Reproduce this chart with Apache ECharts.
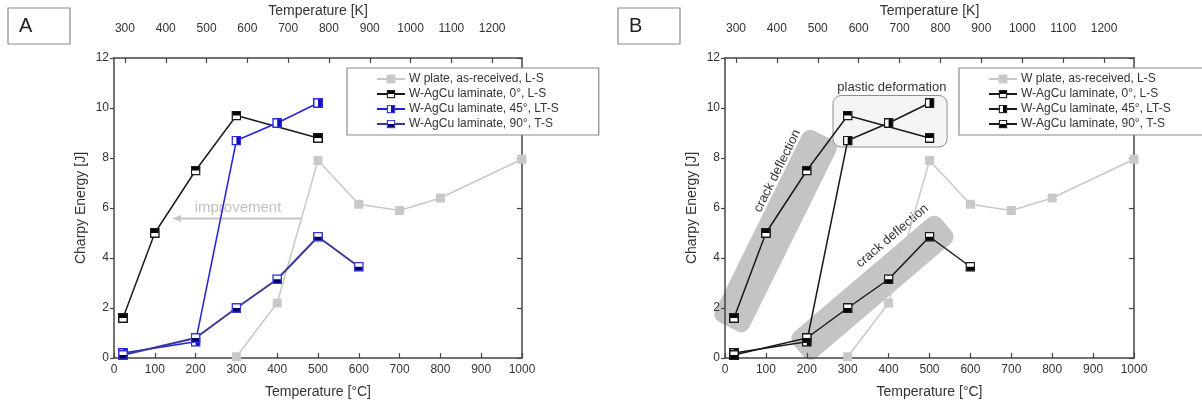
<!DOCTYPE html>
<html>
<head>
<meta charset="utf-8">
<script src="https://cdn.jsdelivr.net/npm/echarts@6/dist/echarts.min.js"></script>
<style>
html,body{margin:0;padding:0;background:#fff;}
#c{width:1202px;height:405px;}
</style>
</head>
<body>
<div id="c"></div>
<script>
// ---- data ----
const seriesNames = ['W plate, as-received, L-S', 'W-AgCu laminate, 0°, L-S', 'W-AgCu laminate, 45°, LT-S', 'W-AgCu laminate, 90°, T-S'];
const tempC_W = [300, 400, 500, 600, 700, 800, 1000];
const energy_W = [0.05, 2.2, 7.9, 6.15, 5.9, 6.4, 7.95];
const tempC_0 = [22, 100, 200, 300, 500];
const energy_0 = [1.6, 5.0, 7.5, 9.7, 8.8];
const tempC_45 = [22, 200, 300, 400, 500];
const energy_45 = [0.2, 0.65, 8.7, 9.4, 10.2];
const tempC_90 = [22, 200, 300, 400, 500, 600];
const energy_90 = [0.12, 0.8, 2.0, 3.15, 4.85, 3.65];
const kelvinTicks = [300, 400, 500, 600, 700, 800, 900, 1000, 1100, 1200];

const pairs = (xs, ys) => xs.map((x, i) => [x, ys[i]]);
const ZW = '\u200b';

function sq(border, fill, half) {
  let h = '';
  if (half === 'top') h = `<rect x="2" y="2" width="16" height="8" fill="${fill}"/>`;
  if (half === 'bottom') h = `<rect x="2" y="10" width="16" height="8" fill="${fill}"/>`;
  if (half === 'right') h = `<rect x="10" y="2" width="8" height="16" fill="${fill}"/>`;
  const svg = `<svg xmlns="http://www.w3.org/2000/svg" width="20" height="20" viewBox="0 0 20 20"><rect x="1.5" y="1.5" width="17" height="17" fill="#ffffff"/>${h}<rect x="1.5" y="1.5" width="17" height="17" fill="none" stroke="${border}" stroke-width="3"/></svg>`;
  return 'image://data:image/svg+xml;charset=utf-8,' + encodeURIComponent(svg);
}

const axisCol = '#444';
const txtCol = '#333';
const font = 'Liberation Sans, Arial, sans-serif';
const plain = v => String(Math.round(v));

function axesFor(gi) {
  const xb = {
    gridIndex: gi, type: 'value', min: 0, max: 1000, interval: 100, position: 'bottom',
    name: 'Temperature [°C]', nameLocation: 'middle', nameGap: 27,
    nameTextStyle: {fontSize: 14, color: txtCol, fontFamily: font},
    axisLine: {onZero: false, lineStyle: {color: axisCol, width: 1.5}},
    axisTick: {inside: true, length: 5, lineStyle: {color: axisCol, width: 1.2}},
    axisLabel: {fontSize: 12, color: txtCol, margin: 6, fontFamily: font, formatter: plain},
    splitLine: {show: false}
  };
  const xt = {
    gridIndex: gi, type: 'value', min: 273.15, max: 1273.15, position: 'top',
    name: 'Temperature [K]', nameLocation: 'middle', nameGap: 38,
    nameTextStyle: {fontSize: 14, color: txtCol, fontFamily: font},
    axisLine: {onZero: false, lineStyle: {color: axisCol, width: 1.5}},
    axisTick: {inside: true, length: 5, customValues: kelvinTicks, lineStyle: {color: axisCol, width: 1.2}},
    axisLabel: {fontSize: 12, color: txtCol, margin: 23, customValues: kelvinTicks, fontFamily: font, formatter: plain},
    splitLine: {show: false}
  };
  const yl = {
    gridIndex: gi, type: 'value', min: 0, max: 12, interval: 2, position: 'left',
    name: 'Charpy Energy [J]', nameLocation: 'middle', nameGap: 26,
    nameTextStyle: {fontSize: 14, color: txtCol, fontFamily: font},
    axisLine: {show: true, onZero: false, lineStyle: {color: axisCol, width: 1.5}},
    axisTick: {show: true, inside: false, length: 4, lineStyle: {color: axisCol, width: 1.2}},
    axisLabel: {fontSize: 12, color: txtCol, margin: 5, fontFamily: font},
    splitLine: {show: false}
  };
  const yr = {
    gridIndex: gi, type: 'value', min: 0, max: 12, interval: 2, position: 'right',
    axisLine: {show: true, onZero: false, lineStyle: {color: axisCol, width: 1.5}},
    axisTick: {show: true, inside: true, length: 5, lineStyle: {color: axisCol, width: 1.2}},
    axisLabel: {show: false},
    splitLine: {show: false}
  };
  return {x: [xb, xt], y: [yl, yr]};
}
const aA = axesFor(0), aB = axesFor(1);

function lineSeries(name, gi, data, lineColor, lineWidth, symbol, size) {
  return {
    name, type: 'line', xAxisIndex: gi * 2, yAxisIndex: gi * 2, data,
    symbol, symbolSize: size, showAllSymbol: true,
    lineStyle: {color: lineColor, width: lineWidth},
    itemStyle: {color: lineColor},
    emphasis: {disabled: true}
  };
}

const gray = '#c8c8c8';
const series = [
  // Panel A
  lineSeries(seriesNames[0], 0, pairs(tempC_W, energy_W), gray, 1.5, 'rect', 9),
  lineSeries(seriesNames[1], 0, pairs(tempC_0, energy_0), '#1a1a1a', 1.5, sq('#1a1a1a', '#000', 'top'), 10),
  lineSeries(seriesNames[2], 0, pairs(tempC_45, energy_45), '#2323dc', 1.5, sq('#2a2ae6', '#1010b4', 'right'), 10),
  lineSeries(seriesNames[3], 0, pairs(tempC_90, energy_90), '#3a3a96', 2, sq('#3535d0', '#00006e', 'bottom'), 10),
  // Panel B
  lineSeries(seriesNames[0] + ZW, 1, pairs(tempC_W, energy_W), gray, 1.5, 'rect', 9),
  lineSeries(seriesNames[1] + ZW, 1, pairs(tempC_0, energy_0), '#1a1a1a', 1.5, sq('#1a1a1a', '#000', 'top'), 10),
  lineSeries(seriesNames[2] + ZW, 1, pairs(tempC_45, energy_45), '#1a1a1a', 1.5, sq('#1a1a1a', '#000', 'right'), 10),
  lineSeries(seriesNames[3] + ZW, 1, pairs(tempC_90, energy_90), '#1a1a1a', 1.5, sq('#1a1a1a', '#000', 'bottom'), 10)
];

function legendAt(left, names, padRight) {
  return {
    left, top: 68, orient: 'vertical', data: names, selectedMode: false,
    backgroundColor: '#fff', borderColor: '#8a8a8a', borderWidth: 1.2,
    padding: [5, padRight, 5, 29], itemWidth: 28, itemHeight: 11, itemGap: 3,
    formatter: n => n.replace(ZW, ''),
    textStyle: {fontSize: 12, color: txtCol, fontFamily: font, padding: [0, 0, 0, -1]}
  };
}

const chart = echarts.init(document.getElementById('c'), null, {renderer: 'canvas'});
chart.setOption({
  animation: false,
  backgroundColor: '#fff',
  textStyle: {fontFamily: font},
  grid: [
    {left: 114, right: 680, top: 58, bottom: 47, containLabel: false, outerBoundsMode: 'none'},
    {left: 725, right: 68, top: 58, bottom: 47, containLabel: false, outerBoundsMode: 'none'}
  ],
  xAxis: [aA.x[0], aA.x[1], aB.x[0], aB.x[1]],
  yAxis: [aA.y[0], aA.y[1], aB.y[0], aB.y[1]],
  legend: [
    legendAt(347, seriesNames, 40),
    legendAt(959, seriesNames.map(n => n + ZW), 50)
  ],
  series
});

// ---- annotations positioned through the axes ----
const pA = (x, y) => chart.convertToPixel({xAxisIndex: 0, yAxisIndex: 0}, [x, y]);
const pB = (x, y) => chart.convertToPixel({xAxisIndex: 2, yAxisIndex: 2}, [x, y]);

function band(p1, p2, w, extra) {
  const cx = (p1[0] + p2[0]) / 2, cy = (p1[1] + p2[1]) / 2;
  const L = Math.hypot(p2[0] - p1[0], p2[1] - p1[1]) + extra;
  const ang = Math.atan2(p1[1] - p2[1], p2[0] - p1[0]);
  return {type: 'rect', x: cx, y: cy, rotation: ang, z: 0,
    shape: {x: -L / 2, y: -w / 2, width: L, height: w, r: 9},
    style: {fill: '#c4c4c4'}};
}
function rtext(p, deg, text, size, color) {
  return {type: 'text', x: p[0], y: p[1], rotation: deg * Math.PI / 180, z: 1,
    style: {text, fontSize: size, fill: color || txtCol, fontFamily: font, align: 'center', verticalAlign: 'middle'}};
}

const b1a = pB(16, 1.5), b1b = pB(232, 8.66);
const b2a = pB(193, 0.48), b2b = pB(528, 5.14);
const ang1 = Math.atan2(b1a[1] - b1b[1], b1b[0] - b1a[0]) * 180 / Math.PI;
const ang2 = Math.atan2(b2a[1] - b2b[1], b2b[0] - b2a[0]) * 180 / Math.PI;
const pdA = pB(264, 10.5), pdB = pB(543, 8.44);
const arS = pA(458, 5.58), arE = pA(142, 5.58);

chart.setOption({
  graphic: [
    // panel letters
    {type: 'rect', x: 8, y: 8, z: 5, shape: {x: 0, y: 0, width: 62, height: 36}, style: {fill: '#fff', stroke: '#8a8a8a', lineWidth: 1.2}},
    {type: 'text', x: 19, y: 26, z: 6, style: {text: 'A', fontSize: 20, fill: '#222', fontFamily: font, verticalAlign: 'middle'}},
    {type: 'rect', x: 618, y: 8, z: 5, shape: {x: 0, y: 0, width: 62, height: 36}, style: {fill: '#fff', stroke: '#8a8a8a', lineWidth: 1.2}},
    {type: 'text', x: 629, y: 26, z: 6, style: {text: 'B', fontSize: 20, fill: '#222', fontFamily: font, verticalAlign: 'middle'}},
    // improvement arrow (panel A)
    {type: 'line', z: 0, shape: {x1: arS[0], y1: arS[1], x2: arE[0] + 6, y2: arE[1]}, style: {stroke: '#c4c4c4', lineWidth: 2}},
    {type: 'polygon', z: 0, shape: {points: [[arE[0], arE[1]], [arE[0] + 9, arE[1] - 3.5], [arE[0] + 9, arE[1] + 3.5]]}, style: {fill: '#c4c4c4'}},
    rtext(pA(304, 6.0), 0, 'improvement', 15, '#c2c2c2'),
    // panel B bands & labels
    band(b1a, b1b, 38, 14),
    band(b2a, b2b, 34, 14),
    {type: 'rect', z: 0, shape: {x: pdA[0], y: pdA[1], width: pdB[0] - pdA[0], height: pdB[1] - pdA[1], r: 8},
      style: {fill: '#f4f4f4', stroke: '#8e8e8e', lineWidth: 1}},
    rtext(pB(408, 10.84), 0, 'plastic deformation', 13),
    rtext(pB(128, 7.48), ang1, 'crack deflection', 13),
    rtext(pB(409, 4.88), ang2, 'crack deflection', 13)
  ]
});
</script>
</body>
</html>
